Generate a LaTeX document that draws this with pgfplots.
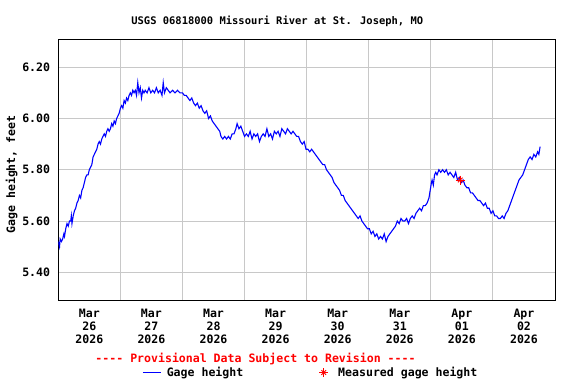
\documentclass[border=0pt]{standalone}
\usepackage{fontspec}
\setmainfont{DejaVu Sans Mono}[Ligatures=TeXOff]
\usepackage{pgfplots}
\pgfplotsset{compat=1.18}
\definecolor{gridgray}{RGB}{200,200,200}
\definecolor{usgsblue}{RGB}{0,0,255}
\definecolor{usgsred}{RGB}{255,0,0}
\newcommand{\mf}{\fontsize{11.6}{13}\selectfont\bfseries}
\pgfplotsset{measuredlegend/.style={legend image code/.code={\path[draw=none,fill=none] (0bp,-0.1bp) rectangle (17.7bp,0.1bp);\draw[##1] plot coordinates {(8.85bp,0bp)};\draw[##1, mark=x, mark size=3.3bp] plot coordinates {(8.85bp,0bp)};}}}
\begin{document}
\begin{tikzpicture}[font=\mf]
\useasboundingbox (0bp,0bp) rectangle (576bp,-384bp);
\begin{axis}[
  at={(58.3bp,-300bp)}, anchor=south west,
  width=496.7bp, height=261bp, scale only axis,
  xmin=0, xmax=8, ymin=5.292, ymax=6.31,
  axis line style={line width=1bp, black},
  xtick={0.5,1.5,2.5,3.5,4.5,5.5,6.5,7.5},
  xticklabels={{Mar\\26\\2026},{Mar\\27\\2026},{Mar\\28\\2026},{Mar\\29\\2026},{Mar\\30\\2026},{Mar\\31\\2026},{Apr\\01\\2026},{Apr\\02\\2026}},
  xticklabel style={align=center, font=\mf, inner sep=0pt, yshift=-9bp},
  minor xtick={1,2,3,4,5,6,7},
  xminorgrids=true,
  ytick={5.4,5.6,5.8,6.0,6.2},
  yticklabels={5.40,5.60,5.80,6.00,6.20},
  yticklabel style={font=\mf, inner sep=0pt, xshift=-8bp},
  ymajorgrids=true,
  grid style={line width=1bp, gridgray},
  minor grid style={line width=1bp, gridgray},
  major tick length=0pt, minor tick length=0pt,
  legend columns=2,
  legend style={draw=none, fill=none, at={(0.1691,-0.2778)}, anchor=west,
    inner sep=0pt, outer sep=0pt, font=\mf,
    nodes={inner sep=0pt},
    /tikz/every odd column/.append style={column sep=5.7bp},
    /tikz/every even column/.append style={column sep=71.5bp}},
  legend image code/.code={\path[draw=none,fill=none] (0bp,-0.1bp) rectangle (17.7bp,0.1bp);\draw[mark repeat=2,mark phase=2,#1] plot coordinates {(0bp,0bp) (8.85bp,0bp) (17.7bp,0bp)};},
]
\addplot[usgsblue, line width=1.1bp] coordinates {
(0.00,5.52)(0.02,5.50)(0.03,5.53)(0.05,5.52)(0.07,5.53)(0.09,5.55)(0.10,5.54)(0.12,5.57)(0.14,5.59)(0.16,5.58)
(0.18,5.60)(0.20,5.60)(0.21,5.62)(0.22,5.59)(0.24,5.62)(0.26,5.64)(0.28,5.65)(0.30,5.67)(0.32,5.68)(0.34,5.70)
(0.36,5.69)(0.38,5.72)(0.40,5.73)(0.42,5.75)(0.44,5.77)(0.46,5.78)(0.48,5.78)(0.50,5.80)(0.52,5.81)(0.54,5.82)
(0.56,5.85)(0.58,5.86)(0.60,5.87)(0.62,5.88)(0.64,5.90)(0.66,5.91)(0.68,5.90)(0.70,5.92)(0.72,5.93)(0.74,5.94)
(0.76,5.93)(0.78,5.95)(0.80,5.96)(0.82,5.95)(0.84,5.96)(0.86,5.98)(0.88,5.97)(0.90,5.99)(0.92,5.98)(0.94,6.00)
(0.96,6.01)(0.98,6.02)(1.00,6.04)(1.02,6.05)(1.04,6.04)(1.06,6.07)(1.08,6.06)(1.10,6.08)(1.12,6.07)(1.14,6.09)
(1.16,6.10)(1.18,6.09)(1.20,6.11)(1.22,6.10)(1.24,6.11)(1.26,6.09)(1.28,6.14)(1.30,6.10)(1.32,6.12)(1.34,6.08)
(1.36,6.11)(1.38,6.10)(1.40,6.11)(1.43,6.10)(1.46,6.12)(1.49,6.10)(1.52,6.11)(1.55,6.10)(1.58,6.12)(1.61,6.10)
(1.64,6.11)(1.67,6.09)(1.69,6.14)(1.71,6.10)(1.74,6.12)(1.77,6.11)(1.80,6.10)(1.84,6.11)(1.88,6.10)(1.92,6.11)
(1.96,6.10)(2.00,6.10)(2.03,6.09)(2.06,6.09)(2.09,6.08)(2.12,6.07)(2.15,6.08)(2.18,6.06)(2.21,6.05)(2.24,6.06)
(2.27,6.04)(2.30,6.05)(2.33,6.03)(2.36,6.02)(2.39,6.03)(2.42,6.00)(2.45,6.01)(2.48,5.99)(2.51,5.98)(2.54,5.97)
(2.57,5.96)(2.60,5.95)(2.62,5.93)(2.65,5.92)(2.68,5.93)(2.71,5.92)(2.74,5.93)(2.77,5.92)(2.80,5.94)(2.83,5.94)
(2.86,5.96)(2.88,5.98)(2.91,5.96)(2.94,5.97)(2.97,5.95)(3.00,5.93)(3.03,5.94)(3.06,5.93)(3.09,5.95)(3.12,5.92)
(3.15,5.94)(3.18,5.93)(3.21,5.94)(3.24,5.91)(3.27,5.93)(3.30,5.94)(3.33,5.93)(3.36,5.96)(3.39,5.93)(3.42,5.94)
(3.45,5.92)(3.48,5.95)(3.51,5.94)(3.54,5.95)(3.57,5.93)(3.60,5.96)(3.63,5.95)(3.66,5.94)(3.69,5.96)(3.72,5.95)
(3.75,5.94)(3.78,5.95)(3.81,5.94)(3.84,5.93)(3.87,5.93)(3.90,5.91)(3.93,5.90)(3.96,5.91)(3.99,5.88)(4.02,5.88)
(4.05,5.87)(4.08,5.88)(4.11,5.87)(4.14,5.86)(4.17,5.85)(4.20,5.84)(4.23,5.83)(4.26,5.82)(4.29,5.82)(4.32,5.80)
(4.35,5.79)(4.38,5.78)(4.41,5.77)(4.44,5.75)(4.47,5.74)(4.50,5.73)(4.53,5.72)(4.56,5.70)(4.59,5.70)(4.62,5.68)
(4.65,5.67)(4.68,5.66)(4.71,5.65)(4.74,5.64)(4.77,5.63)(4.80,5.62)(4.83,5.61)(4.86,5.62)(4.89,5.60)(4.92,5.59)
(4.95,5.58)(4.98,5.57)(5.01,5.57)(5.04,5.55)(5.07,5.56)(5.10,5.54)(5.13,5.55)(5.16,5.53)(5.19,5.54)(5.22,5.53)
(5.25,5.55)(5.28,5.52)(5.31,5.54)(5.34,5.55)(5.37,5.56)(5.40,5.57)(5.43,5.58)(5.46,5.60)(5.49,5.59)(5.52,5.61)
(5.55,5.60)(5.58,5.60)(5.61,5.61)(5.64,5.59)(5.67,5.61)(5.70,5.62)(5.73,5.61)(5.76,5.63)(5.79,5.64)(5.82,5.65)
(5.85,5.64)(5.88,5.66)(5.91,5.66)(5.94,5.67)(5.97,5.69)(5.99,5.72)(6.01,5.75)(6.02,5.76)(6.04,5.74)(6.06,5.78)
(6.08,5.79)(6.10,5.78)(6.13,5.80)(6.16,5.79)(6.19,5.80)(6.22,5.79)(6.25,5.80)(6.28,5.78)(6.31,5.79)(6.34,5.78)
(6.37,5.77)(6.40,5.79)(6.43,5.76)(6.46,5.77)(6.49,5.75)(6.52,5.76)(6.55,5.74)(6.58,5.73)(6.61,5.73)(6.64,5.71)
(6.67,5.71)(6.70,5.70)(6.73,5.69)(6.76,5.68)(6.79,5.68)(6.82,5.67)(6.85,5.66)(6.88,5.67)(6.91,5.65)(6.94,5.65)
(6.97,5.63)(7.00,5.64)(7.03,5.62)(7.06,5.62)(7.09,5.61)(7.12,5.61)(7.15,5.62)(7.18,5.61)(7.21,5.63)(7.24,5.64)
(7.27,5.66)(7.30,5.68)(7.33,5.70)(7.36,5.72)(7.39,5.74)(7.42,5.76)(7.45,5.77)(7.48,5.78)(7.51,5.80)(7.54,5.82)
(7.57,5.84)(7.60,5.85)(7.63,5.84)(7.66,5.86)(7.69,5.85)(7.72,5.87)(7.74,5.86)(7.76,5.89)
};
\addlegendentry{Gage height}
\addplot[usgsred, only marks, mark=+, mark size=4.5bp, line width=0.9bp, measuredlegend]
  coordinates {(6.474,5.760)};
\addlegendentry{Measured gage height}
\addplot[usgsred, only marks, mark=x, mark size=3.3bp, line width=0.9bp, forget plot] coordinates {(6.474,5.760)};
\end{axis}
\node[anchor=base, inner sep=0pt, font=\fontsize{10.5}{12}\selectfont\bfseries] at (277.3bp,-24bp) {USGS 06818000 Missouri River at St. Joseph, MO};
\node[anchor=center, rotate=90, inner sep=0pt] at (11.5bp,-174.5bp) {Gage height, feet};
\node[anchor=base, inner sep=0pt, text=usgsred] at (255.5bp,-362.5bp) {---- Provisional Data Subject to Revision ----};
\end{tikzpicture}
\end{document}
